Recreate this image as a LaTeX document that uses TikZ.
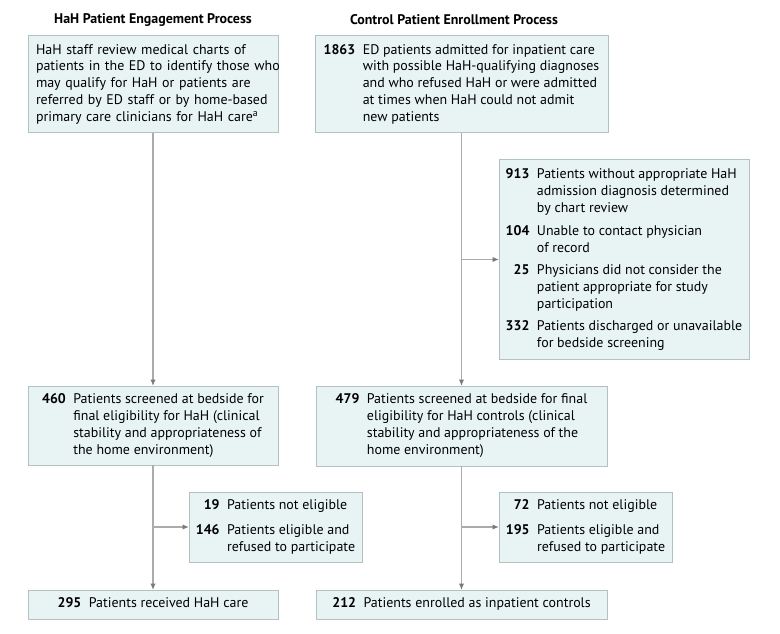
\documentclass[tikz,border=0pt]{standalone}
\usepackage{fontspec}
\setmainfont{PT Sans}
\usetikzlibrary{arrows.meta,positioning}
\definecolor{boxfill}{HTML}{E8F3F3}
\definecolor{boxline}{HTML}{B2C2C2}
\definecolor{linegray}{HTML}{ABABAB}
\definecolor{tipgray}{HTML}{7A7A7A}
\newcommand{\cnt}[1]{\textbf{#1}}
\newcommand{\tally}[1]{\begin{tabular}{@{}r@{\hspace{7.5bp}}l@{}}#1\end{tabular}}

\begin{document}
\begin{tikzpicture}[
    x=1bp, y=-1bp,
    every node/.style={font=\fontsize{14}{17}\selectfont},
    title/.style={font=\fontsize{14}{17}\selectfont\bfseries},
    box/.style={draw=boxline, fill=boxfill, line width=1bp, inner sep=0pt, outer sep=0pt, align=center},
    flow/.style={-{Latex[length=6.5bp,width=5.5bp,color=tipgray]}, draw=linegray, line width=1.3bp}
]
\useasboundingbox (0,0) rectangle (780,634);

\node[title] (ltitle) at (153,20) {HaH Patient Engagement Process};
\node[title] (rtitle) at (454,20) {Control Patient Enrollment Process};

\node[box, anchor=north west, inner xsep=8bp, text width=234bp, minimum height=97bp, align=left] (review) at (28,36)
  {\begin{tabular}{@{}l@{}}HaH staff review medical charts of\\ patients in the ED to identify those who\\ may qualify for HaH or patients are\\ referred by ED staff or by home-based\\ primary care clinicians for HaH care\textsuperscript{a}\end{tabular}};
\node[box, right=37bp of review, minimum width=293bp, minimum height=97bp] (admitted)
  {\tally{\cnt{1863} & ED patients admitted for inpatient care\\ & with possible HaH-qualifying diagnoses\\ & and who refused HaH or were admitted\\ & at times when HaH could not admit\\ & new patients}};
\node[box, anchor=north west, minimum width=250bp, minimum height=199bp] (excluded) at (499,160)
  {\tally{\cnt{913} & Patients without appropriate HaH\\ & admission diagnosis determined\\ & by chart review\\[7bp]
   \cnt{104} & Unable to contact physician\\ & of record\\[5bp]
   \cnt{25} & Physicians did not consider the\\ & patient appropriate for study\\ & participation\\[5bp]
   \cnt{332} & Patients discharged or unavailable\\ & for bedside screening}};

\node[box, below=253bp of review, minimum width=250bp, minimum height=79bp] (hahscreen)
  {\tally{\cnt{460} & Patients screened at bedside for\\ & final eligibility for HaH (clinical\\ & stability and appropriateness of\\ & the home environment)}};
\node[box, below=253bp of admitted, minimum width=291bp, minimum height=80bp] (ctlscreen)
  {\tally{\cnt{479} & Patients screened at bedside for final\\ & eligibility for HaH controls (clinical\\ & stability and appropriateness of the\\ & home environment)}};

\node[box, anchor=north west, minimum width=173bp, minimum height=70bp] (hahout) at (189,492)
  {\tally{\cnt{19} & Patients not eligible\\[8bp] \cnt{146} & Patients eligible and\\ & refused to participate}};
\node[box, anchor=north west, minimum width=173bp, minimum height=70bp] (ctlout) at (499,492)
  {\tally{\cnt{72} & Patients not eligible\\[8bp] \cnt{195} & Patients eligible and\\ & refused to participate}};

\node[box, below=125bp of hahscreen, minimum width=250bp, minimum height=29bp] (hahcare)
  {\tally{\cnt{295} & Patients received HaH care}};
\node[box, below=124bp of ctlscreen, minimum width=291bp, minimum height=29bp] (ctlenroll)
  {\tally{\cnt{212} & Patients enrolled as inpatient controls}};

% main flow
\draw[flow] (review) -- (hahscreen);
\draw[flow] (admitted) -- (ctlscreen);
\draw[flow] (hahscreen) -- (hahcare);
\draw[flow] (ctlscreen) -- (ctlenroll);

% exclusions
\coordinate (split1) at (admitted.south |- excluded.west);
\coordinate (split2) at (hahscreen.south |- hahout.west);
\coordinate (split3) at (ctlscreen.south |- ctlout.west);
\draw[flow] (split1) -- (excluded.west);
\draw[flow] (split2) -- (hahout.west);
\draw[flow] (split3) -- (ctlout.west);
\end{tikzpicture}
\end{document}
